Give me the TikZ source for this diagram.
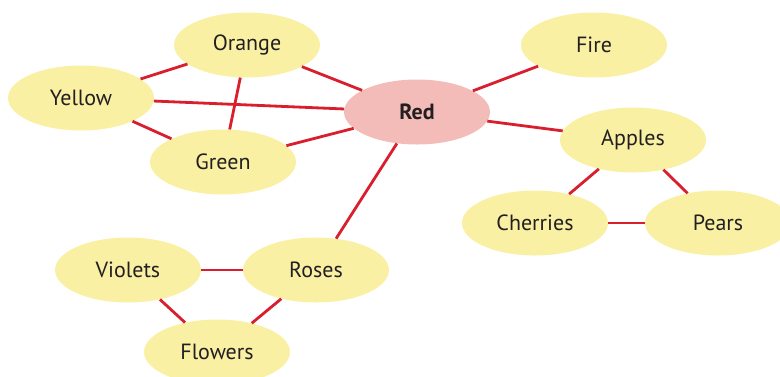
\documentclass[tikz,border=0pt]{standalone}
\usepackage{fontspec}
\setmainfont{PT Sans}
\usetikzlibrary{shapes.geometric}

\definecolor{ideayellow}{HTML}{F9F0A3}
\definecolor{ideared}{HTML}{F4BCB8}
\definecolor{linkred}{HTML}{D91F2D}
\definecolor{inkgray}{HTML}{231F20}

\begin{document}
\begin{tikzpicture}[x=1pt, y=-1pt,
    idea/.style={ellipse, fill=ideayellow, minimum width=146pt, minimum height=65pt,
        inner sep=0pt, text=inkgray, font=\fontsize{22}{26}\selectfont},
    hub/.style={idea, fill=ideared, font=\fontsize{22}{26}\selectfont\bfseries},
    link/.style={draw=linkred, line width=2.8pt}]

    \useasboundingbox (0,0) rectangle (780,376);

    % Nodes
    \node [hub] (red) at (417,112) {Red};
    \node [idea] (orange) at (247,45) {Orange};
    \node [idea] (yellow) at (81,98) {Yellow};
    \node [idea] (green) at (223,162) {Green};
    \node [idea] (fire) at (594,45) {Fire};
    \node [idea] (apples) at (633,140) {Apples};
    \node [idea] (cherries) at (535,223) {Cherries};
    \node [idea] (pears) at (718,223) {Pears};
    \node [idea] (roses) at (316,270) {Roses};
    \node [idea] (violets) at (128,270) {Violets};
    \node [idea] (flowers) at (217,352) {Flowers};

    % Links
    \path[link] (yellow) -- (orange);
    \path[link] (yellow) -- (red);
    \path[link] (yellow) -- (green);
    \path[link] (orange) -- (green);
    \path[link] (orange) -- (red);
    \path[link] (green) -- (red);
    \path[link] (red) -- (fire);
    \path[link] (red) -- (apples);
    \path[link] (red) -- (roses);
    \path[link] (apples) -- (cherries);
    \path[link] (apples) -- (pears);
    \path[link] (cherries) -- (pears);
    \path[link] (violets) -- (roses);
    \path[link] (violets) -- (flowers);
    \path[link] (roses) -- (flowers);

\end{tikzpicture}
\end{document}
